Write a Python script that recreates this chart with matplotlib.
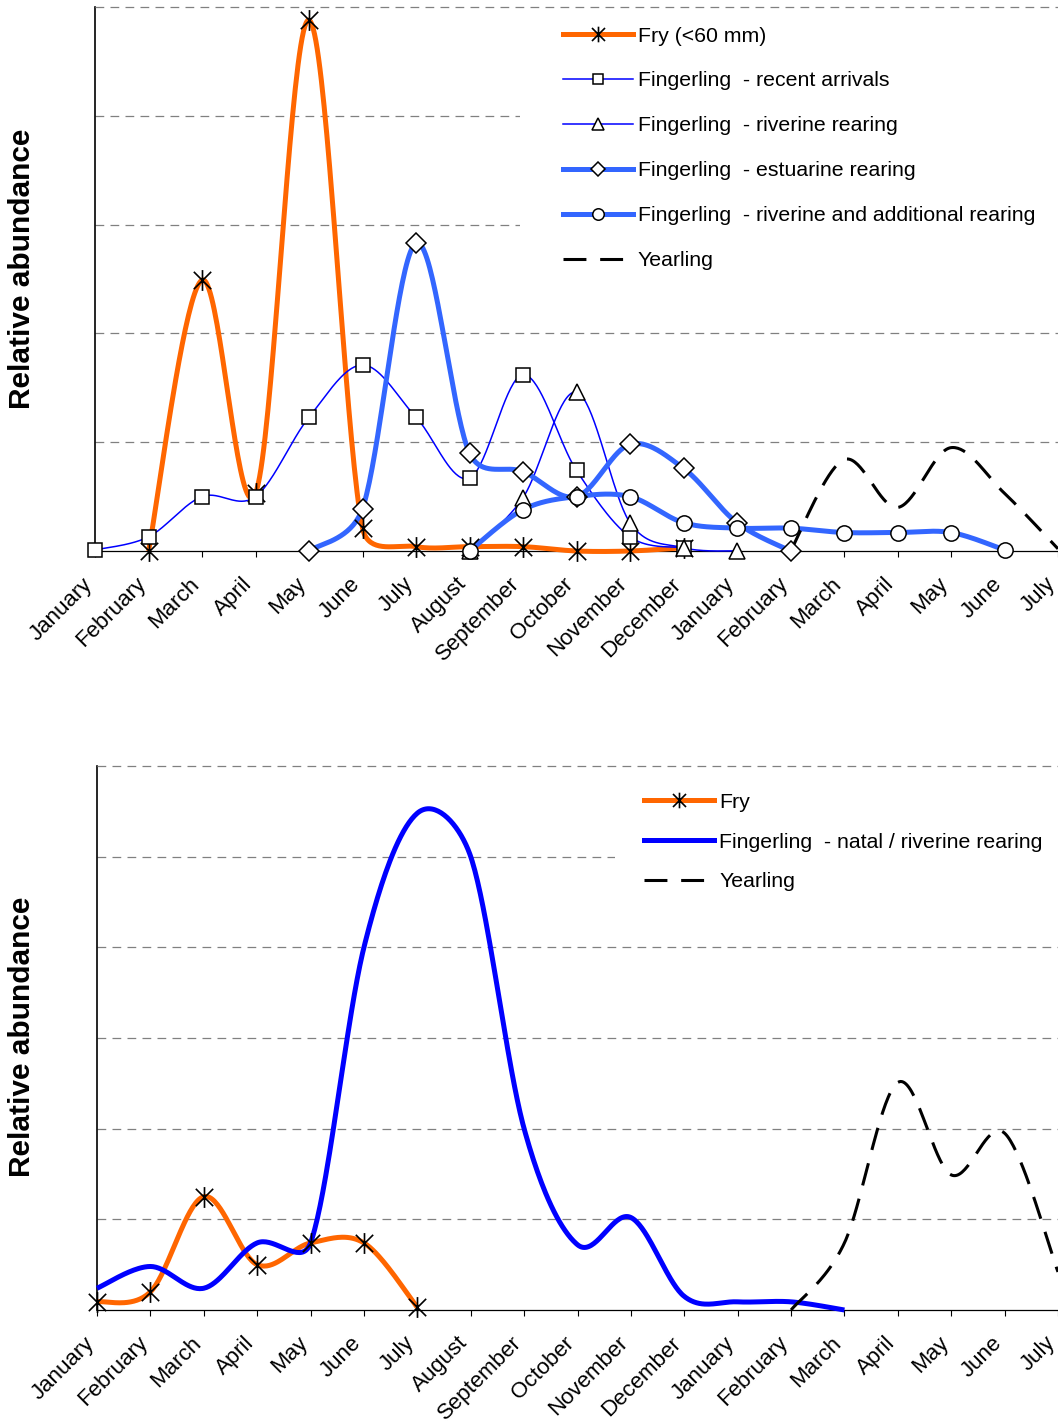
import numpy as np
import matplotlib
matplotlib.use("Agg")
import matplotlib.pyplot as plt
from matplotlib.path import Path
from matplotlib.lines import Line2D
from matplotlib.transforms import ScaledTranslation

plt.rcParams['font.family'] = ['Liberation Sans', 'DejaVu Sans']

# ---------------- data ----------------
months = ['January', 'February', 'March', 'April', 'May', 'June', 'July',
          'August', 'September', 'October', 'November', 'December',
          'January', 'February', 'March', 'April', 'May', 'June', 'July']

# top panel (start index into months, values)
fry_top_start = 1
fry_top = [0.0, 2.49, 0.53, 4.88, 0.21, 0.04, 0.04, 0.04, 0.0, 0.0, 0.03]
recent_start = 0
recent = [0.01, 0.13, 0.50, 0.50, 1.23, 1.71, 1.23, 0.67, 1.62, 0.74, 0.13, 0.03]
riverine_start = 7
riverine = [0.0, 0.49, 1.46, 0.26, 0.03, 0.0]
estuarine_start = 4
estuarine = [0.0, 0.39, 2.83, 0.90, 0.73, 0.50, 0.98, 0.76, 0.26, 0.0]
additional_start = 7
additional = [0.0, 0.38, 0.50, 0.50, 0.26, 0.21, 0.21, 0.17, 0.17, 0.17, 0.01]
yearling_top_start = 13
yearling_top = [0.0, 0.84, 0.40, 0.95, 0.53, 0.02]

# bottom panel
fry_bot_start = 0
fry_bot = [0.09, 0.20, 1.25, 0.50, 0.74, 0.74, 0.03]
natal_start = 0
natal = [0.24, 0.48, 0.24, 0.74, 0.74, 4.00, 5.48, 5.00, 2.00, 0.72, 1.02, 0.15, 0.09, 0.09, 0.0]
yearling_bot_start = 13
yearling_bot = [0.0, 0.74, 2.51, 1.49, 1.95, 0.42]

top_labels = ['Fry (<60 mm)', 'Fingerling  - recent arrivals', 'Fingerling  - riverine rearing',
              'Fingerling  - estuarine rearing', 'Fingerling  - riverine and additional rearing',
              'Yearling']
bot_labels = ['Fry', 'Fingerling  - natal / riverine rearing', 'Yearling']

# ---------------- styles ----------------
ORANGE = '#FF6600'
BLUE = '#0000FF'
MBLUE = '#3366FF'
GRID = '#808080'
ast = Path([(-1, -1), (1, 1), (-1, 1), (1, -1), (0, -1.2), (0, 1.2)],
           [Path.MOVETO, Path.LINETO, Path.MOVETO, Path.LINETO, Path.MOVETO, Path.LINETO])
YDASH = (0, (7.5, 4.5))

W, H = 1058, 1424
fig = plt.figure(figsize=(W / 100, H / 100), dpi=100)


def rect(l, r, t, b):
    return [l / W, 1 - b / H, (r - l) / W, (b - t) / H]


def excel_smooth(ax, xs, ys, n=40):
    pts = ax.transData.transform(np.column_stack([xs, ys]))
    m = len(pts)
    out = []
    for i in range(m - 1):
        p1, p2 = pts[i], pts[i + 1]
        p0 = pts[i - 1] if i > 0 else p1
        p3 = pts[i + 2] if i + 2 < m else p2
        d12 = np.hypot(*(p2 - p1))
        d02 = np.hypot(*(p2 - p0))
        d13 = np.hypot(*(p3 - p1))
        f1 = 1 / 6
        if d02 > 0 and d02 / 6 > d12 / 2:
            f1 = (d12 / 2) / d02
        f2 = 1 / 6
        if d13 > 0 and d13 / 6 > d12 / 2:
            f2 = (d12 / 2) / d13
        c1 = p1 + (p2 - p0) * f1
        c2 = p2 - (p3 - p1) * f2
        t = np.linspace(0, 1, n)[:, None]
        seg = (1 - t) ** 3 * p1 + 3 * (1 - t) ** 2 * t * c1 + 3 * (1 - t) * t ** 2 * c2 + t ** 3 * p2
        out.append(seg if i == 0 else seg[1:])
    return ax.transData.inverted().transform(np.vstack(out))


def series(ax, start, vals, color, lw, ls='-', marker=None, ms=10, z=3):
    xs = np.arange(start, start + len(vals))
    c = excel_smooth(ax, xs, vals)
    ax.plot(c[:, 0], c[:, 1], color=color, lw=lw, ls=ls, clip_on=False, zorder=z,
            solid_capstyle='butt', dash_capstyle='butt')
    if marker is not None:
        if marker == 'ast':
            ax.plot(xs, vals, ls='none', marker=ast, ms=ms, mec='black', mfc='none',
                    mew=1.2, clip_on=False, zorder=z + 0.5)
        else:
            ax.plot(xs, vals, ls='none', marker=marker, ms=ms, mec='black', mfc='white',
                    mew=1.1, clip_on=False, zorder=z + 0.5)


def setup(ax, ymax):
    ax.set_xlim(0, 18)
    ax.set_ylim(0, ymax)
    for s in ['top', 'right']:
        ax.spines[s].set_visible(False)
    ax.spines['left'].set_linewidth(1.2)
    ax.spines['bottom'].set_linewidth(0.9)
    ax.set_yticks([])
    ax.set_xticks(range(len(months)))
    ax.set_xticklabels(months, fontsize=16)
    ax.tick_params(axis='x', direction='out', length=4, width=0.8, pad=14)
    shift = ScaledTranslation(-6 / 100, -5 / 100, fig.dpi_scale_trans)
    for lab in ax.get_xticklabels():
        lab.set_rotation(45)
        lab.set_ha('right')
        lab.set_va('center')
        lab.set_rotation_mode('anchor')
        lab.set_transform(lab.get_transform() + shift)
    for g in range(1, ymax):
        ax.axhline(g, color=GRID, lw=0.9, ls=(0, (7, 5)), zorder=1)
    ax.axhline(ymax, color=GRID, lw=0.9, ls=(0, (7, 5)), zorder=6, clip_on=False)


# ---------------- top panel ----------------
ax1 = fig.add_axes(rect(95, 1058, 7, 551))
setup(ax1, 5)
series(ax1, fry_top_start, fry_top, ORANGE, 3.6, marker='ast', ms=15, z=3)
series(ax1, recent_start, recent, BLUE, 1.1, marker='s', ms=10, z=3.1)
series(ax1, riverine_start, riverine, BLUE, 1.1, marker='^', ms=11, z=3.2)
series(ax1, estuarine_start, estuarine, MBLUE, 3.6, marker='D', ms=10, z=3.3)
series(ax1, additional_start, additional, MBLUE, 3.6, marker='o', ms=11, z=3.4)
series(ax1, yearling_top_start, yearling_top, 'black', 2.2, ls=YDASH, z=3.5)

h_top = [
    Line2D([], [], color=ORANGE, lw=3.6, marker=ast, ms=15, mec='black', mfc='none', mew=1.2),
    Line2D([], [], color=BLUE, lw=1.1, marker='s', ms=10, mec='black', mfc='white', mew=1.1),
    Line2D([], [], color=BLUE, lw=1.1, marker='^', ms=11, mec='black', mfc='white', mew=1.1),
    Line2D([], [], color=MBLUE, lw=3.6, marker='D', ms=10, mec='black', mfc='white', mew=1.1),
    Line2D([], [], color=MBLUE, lw=3.6, marker='o', ms=11, mec='black', mfc='white', mew=1.1),
    Line2D([], [], color='black', lw=2.2, ls=YDASH),
]
leg1 = ax1.legend(h_top, top_labels, loc='upper left',
                  bbox_to_anchor=(520 / W, 1 + 16 / H), bbox_transform=fig.transFigure,
                  borderaxespad=0, borderpad=2.0, fontsize=15.3, frameon=True, fancybox=False,
                  edgecolor='none', facecolor='white', framealpha=1, handlelength=3.3,
                  handletextpad=0.25, labelspacing=1.22, numpoints=1, markerscale=0.75)
leg1.set_zorder(5)

fig.text(22 / W, 1 - 269 / H, 'Relative abundance', rotation=90, ha='center', va='center',
         fontsize=21.5, fontweight='bold')

# ---------------- bottom panel ----------------
ax2 = fig.add_axes(rect(97, 1058, 766, 1310))
setup(ax2, 6)
series(ax2, fry_bot_start, fry_bot, ORANGE, 3.6, marker='ast', ms=15, z=3)
series(ax2, natal_start, natal, BLUE, 3.6, z=3.2)
series(ax2, yearling_bot_start, yearling_bot, 'black', 2.2, ls=YDASH, z=3.5)

h_bot = [
    Line2D([], [], color=ORANGE, lw=3.6, marker=ast, ms=15, mec='black', mfc='none', mew=1.2),
    Line2D([], [], color=BLUE, lw=3.6),
    Line2D([], [], color='black', lw=2.2, ls=YDASH),
]
leg2 = ax2.legend(h_bot, bot_labels, loc='upper left',
                  bbox_to_anchor=(615 / W, 1 - 764 / H), bbox_transform=fig.transFigure,
                  borderaxespad=0, borderpad=1.35, fontsize=15.3, frameon=True, fancybox=False,
                  edgecolor='none', facecolor='white', framealpha=1, handlelength=3.3,
                  handletextpad=0.25, labelspacing=0.98, numpoints=1, markerscale=0.75)
leg2.set_zorder(5)

fig.text(22 / W, 1 - 1037 / H, 'Relative abundance', rotation=90, ha='center', va='center',
         fontsize=21.5, fontweight='bold')

fig.savefig('out.png', dpi=100)
